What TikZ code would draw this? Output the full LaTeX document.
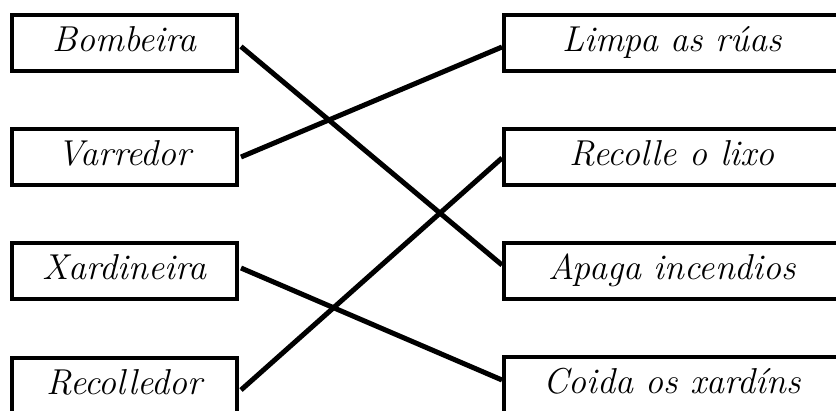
\documentclass[tikz,border=0pt]{standalone}
\usepackage{fontspec}
\usetikzlibrary{calc}
\tikzset{
  wordbox/.style={draw=black, line width=4pt, rectangle, minimum height=56pt,
    inner sep=0pt, text height=23pt, text depth=6pt,
    font=\fontsize{36}{42}\selectfont\itshape},
  leftbox/.style={wordbox, minimum width=225pt},
  rightbox/.style={wordbox, minimum width=336pt},
  link/.style={draw=black, line width=5pt}
}
\begin{document}
\begin{tikzpicture}[x=1pt,y=-1pt]
\useasboundingbox (0,0) rectangle (836,410);
\node[leftbox] (b1) at (124.5,43) {Bombeira};
\node[leftbox] (b2) at (124.5,157) {Varredor};
\node[leftbox] (b3) at (124.5,271) {Xardineira};
\node[leftbox] (b4) at (124.5,386) {Recolledor};
\node[rightbox] (r1) at (672,43) {Limpa as rúas};
\node[rightbox] (r2) at (672,157) {Recolle o lixo};
\node[rightbox] (r3) at (672,271) {Apaga incendios};
\node[rightbox] (r4) at (672,385) {Coida os xardíns};
\draw[link] ($(b1.east)+(2,3.5)$) -- ($(r3.west)+(0,-6)$);
\draw[link] ($(b2.east)+(2,0)$) -- ($(r1.west)+(0,4)$);
\draw[link] ($(b3.east)+(2,-3)$) -- ($(r4.west)+(0,-5)$);
\draw[link] ($(b4.east)+(2,4)$) -- ($(r2.west)+(0,1)$);
\end{tikzpicture}
\end{document}
